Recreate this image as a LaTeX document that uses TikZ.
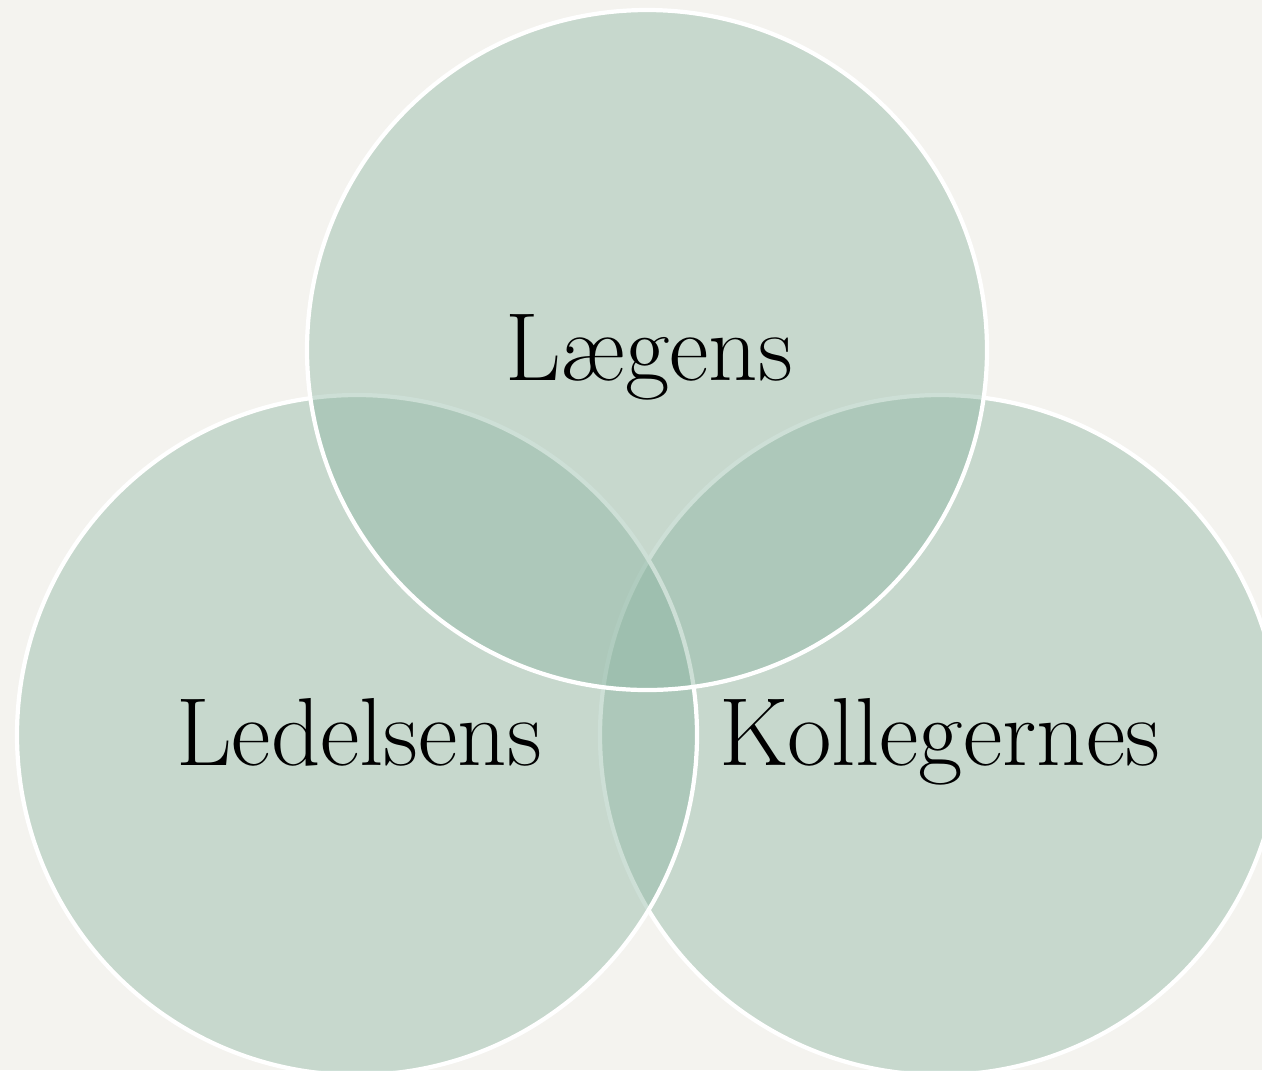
\documentclass[tikz,border=0pt]{standalone}
\usepackage{fontspec}
\usetikzlibrary{positioning}
\definecolor{paper}{RGB}{244,243,239}
\definecolor{sage}{RGB}{140,181,161}

\begin{document}
\begin{tikzpicture}[venn/.style={circle, minimum size=6.8cm, inner sep=0pt, fill=sage, fill opacity=0.43, draw=white, line width=1.2pt}, word/.style={anchor=base, font=\fontsize{27.5}{33}\selectfont, text=black}]

		\fill[paper] (0,0) rectangle (12.62,-10.70);
		\useasboundingbox (0,0) rectangle (12.62,-10.70);

		\node (k) [venn] at (9.40,-7.35) {};
		\node (l) [venn] at (3.57,-7.35) {};
		\node (t) [venn] at (6.47,-3.50) {};

		\node (tt) [word] at ([xshift=0.02cm,yshift=-0.30cm]t.center) {Lægens};
		\node (lt) [word] at ([xshift=0.02cm,yshift=-0.30cm]l.center) {Ledelsens};
		\node (kt) [word] at ([yshift=-0.30cm]k.center) {Kollegernes};

\end{tikzpicture}
\end{document}
